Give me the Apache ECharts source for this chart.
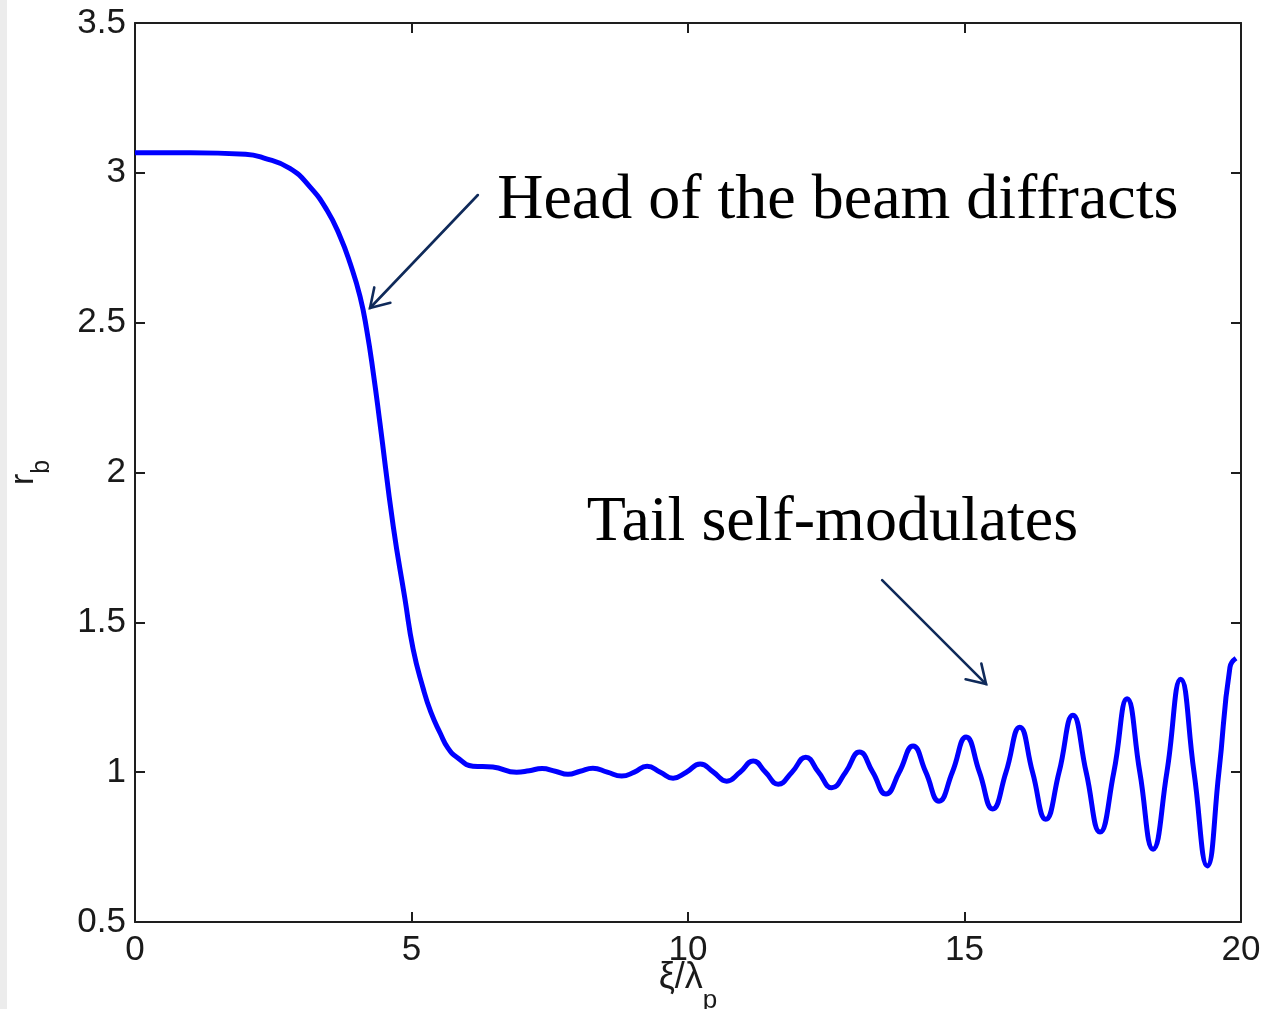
<!DOCTYPE html>
<html>
<head>
<meta charset="utf-8">
<script src="https://cdn.jsdelivr.net/npm/echarts@6/dist/echarts.min.js"></script>
<style>
html,body{margin:0;padding:0;background:#fff;}
#c{width:1266px;height:1009px;}
</style>
</head>
<body>
<div id="c"></div>
<script>
// ---- data ----
const xi = [0, 1.0, 2.0, 2.32, 2.8, 3.16, 3.47, 3.71, 3.89, 4.07, 4.19, 4.31, 4.43, 4.67, 4.88, 5.03, 5.21, 5.35, 5.52, 5.66, 5.82, 6.11, 6.47, 6.9,
  7.13, 7.36, 7.6, 7.83, 8.05, 8.28, 8.54, 8.8, 9.03, 9.26, 9.5, 9.73, 9.97, 10.22, 10.46, 10.7, 10.94, 11.18, 11.4, 11.63,
  11.88, 12.13, 12.36, 12.6, 12.85, 13.1, 13.34, 13.58, 13.82, 14.07, 14.3, 14.54, 14.78, 15.03, 15.27, 15.51, 15.75, 16.0,
  16.23, 16.47, 16.71, 16.96, 17.2, 17.45, 17.7, 17.94, 18.17, 18.41, 18.66, 18.91, 19.15, 19.39, 19.6, 19.8, 19.91];
const rb = [3.067, 3.067, 3.062, 3.05, 3.015, 2.954, 2.876, 2.787, 2.698, 2.587, 2.476, 2.331, 2.164, 1.82, 1.58, 1.41, 1.28, 1.20, 1.13, 1.08, 1.05, 1.02, 1.017, 1.0,
  1.005, 1.012, 1.003, 0.993, 1.003, 1.013, 1.0, 0.987, 1.0, 1.02, 1.0, 0.98, 1.0, 1.027, 1.0, 0.97, 1.0, 1.037, 1.0, 0.96,
  1.0, 1.05, 1.0, 0.948, 1.0, 1.067, 1.0, 0.927, 1.0, 1.087, 1.0, 0.903, 1.0, 1.117, 1.0, 0.877, 1.0, 1.15,
  1.0, 0.843, 1.0, 1.19, 1.0, 0.80, 1.0, 1.245, 1.0, 0.743, 1.0, 1.31, 1.0, 0.687, 1.0, 1.35, 1.38];

const xTicks = [0, 5, 10, 15, 20];
const yTicks = [0.5, 1, 1.5, 2, 2.5, 3, 3.5];

const noteTexts = ['Head of the beam diffracts', 'Tail self-modulates'];
const noteAnchors = [[6.55, 2.905], [8.17, 1.83]];       // data coords (left, middle of text)
const arrowFrom = [[6.2, 2.926], [13.51, 1.641]];        // data coords
const arrowTo = [[4.25, 2.549], [15.39, 1.294]];

// ---- chart ----
const chart = echarts.init(document.getElementById('c'), null, {renderer: 'canvas'});
const data = xi.map((x, i) => [x, rb[i]]);
const axisCol = '#1e1e1e';
const labelFont = 'Liberation Sans, Arial, sans-serif';

const baseX = {
  type: 'value', min: xTicks[0], max: xTicks[xTicks.length - 1], interval: xTicks[1] - xTicks[0],
  axisLine: {show: true, onZero: false, lineStyle: {color: axisCol, width: 2}},
  axisTick: {show: true, inside: true, length: 10, lineStyle: {color: axisCol, width: 2}},
  splitLine: {show: false}
};
const baseY = {
  type: 'value', min: yTicks[0], max: yTicks[yTicks.length - 1], interval: yTicks[1] - yTicks[0],
  axisLine: {show: true, onZero: false, lineStyle: {color: axisCol, width: 2}},
  axisTick: {show: true, inside: true, length: 10, lineStyle: {color: axisCol, width: 2}},
  splitLine: {show: false}
};

chart.setOption({
  animation: false,
  backgroundColor: '#ffffff',
  grid: {left: 135, right: 25, top: 23, bottom: 87, containLabel: false, outerBoundsMode: 'none'},
  xAxis: [
    Object.assign({}, baseX, {
      position: 'bottom',
      axisLabel: {show: true, margin: 11, fontSize: 35, color: '#1a1a1a', fontFamily: labelFont},
      name: '{a|ξ/λ}{s|p}',
      nameLocation: 'middle',
      nameGap: 38,
      nameMoveOverlap: false,
      nameTextStyle: {
        rich: {
          a: {fontSize: 36, fontFamily: labelFont, color: '#1a1a1a', verticalAlign: 'top', lineHeight: 38},
          s: {fontSize: 26, fontFamily: labelFont, color: '#1a1a1a', verticalAlign: 'bottom', lineHeight: 54}
        }
      }
    }),
    Object.assign({}, baseX, {position: 'top', axisLabel: {show: false}})
  ],
  yAxis: [
    Object.assign({}, baseY, {
      position: 'left',
      axisLabel: {show: true, margin: 9, fontSize: 35, color: '#1a1a1a', fontFamily: labelFont},
      name: '{a|r}{s|b}',
      nameLocation: 'middle',
      nameRotate: 90,
      nameGap: 80,
      nameMoveOverlap: false,
      nameTextStyle: {
        rich: {
          a: {fontSize: 34, fontFamily: labelFont, color: '#1a1a1a', verticalAlign: 'top', lineHeight: 34},
          s: {fontSize: 25, fontFamily: labelFont, color: '#1a1a1a', verticalAlign: 'bottom', lineHeight: 48}
        }
      }
    }),
    Object.assign({}, baseY, {position: 'right', axisLabel: {show: false}})
  ],
  series: [{
    type: 'line',
    xAxisIndex: 0, yAxisIndex: 0,
    data: data,
    smooth: 0.5,
    showSymbol: false,
    symbol: 'none',
    lineStyle: {color: '#0000ff', width: 5},
    z: 5
  }]
});

// ---- annotations positioned through the axes ----
function px(p) { return chart.convertToPixel({xAxisIndex: 0, yAxisIndex: 0}, p); }
const graphics = [{
  type: 'rect', shape: {x: 0, y: 0, width: 7, height: 1009},
  style: {fill: '#ececec'}, silent: true, z: 0
}];
noteTexts.forEach((t, i) => {
  const p = px(noteAnchors[i]);
  graphics.push({
    type: 'text', x: p[0], y: p[1], z: 10,
    style: {text: t, fill: '#000', font: '64px "Liberation Serif", "Times New Roman", serif',
      textAlign: 'left', textVerticalAlign: 'middle'}
  });
});
arrowFrom.forEach((f, i) => {
  const a = px(f), b = px(arrowTo[i]);
  const dx = a[0] - b[0], dy = a[1] - b[1];
  const L = Math.hypot(dx, dy), ux = dx / L, uy = dy / L;
  const hl = 21, ang = 32 * Math.PI / 180;
  const c = Math.cos(ang), s = Math.sin(ang);
  const b1 = [b[0] + hl * (ux * c - uy * s), b[1] + hl * (ux * s + uy * c)];
  const b2 = [b[0] + hl * (ux * c + uy * s), b[1] + hl * (-ux * s + uy * c)];
  const st = {stroke: '#0f2a5a', lineWidth: 2.6, fill: null, lineCap: 'round', lineJoin: 'miter'};
  graphics.push({type: 'line', shape: {x1: a[0], y1: a[1], x2: b[0], y2: b[1]}, style: st, z: 10});
  graphics.push({type: 'polyline', shape: {points: [b1, b, b2]}, style: st, z: 10});
});
chart.setOption({graphic: graphics});
</script>
</body>
</html>
